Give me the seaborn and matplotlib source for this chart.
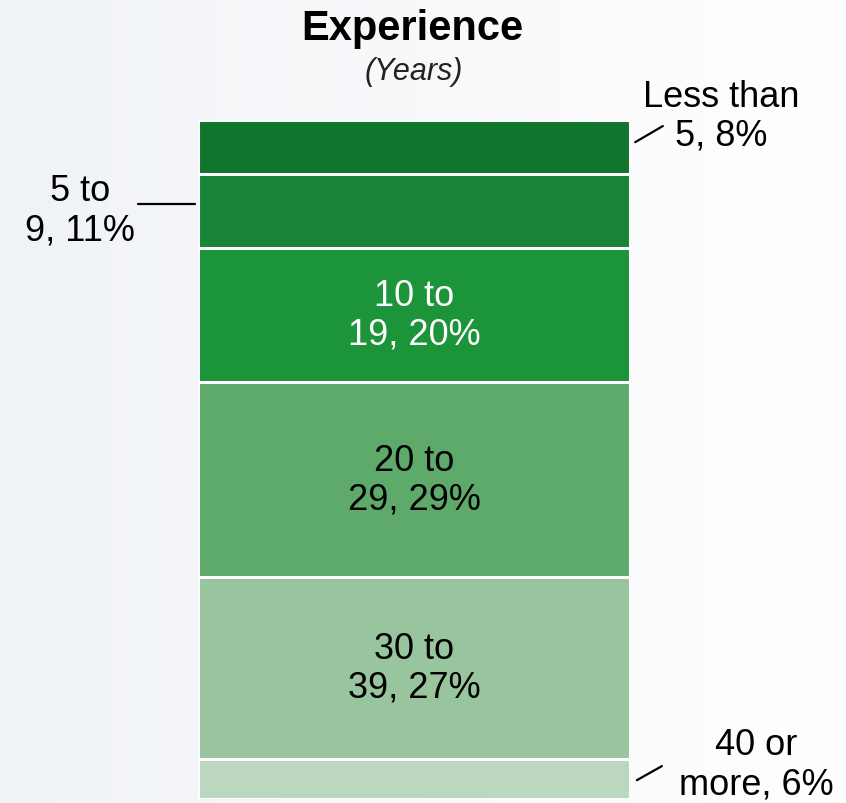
import numpy as np
import pandas as pd
import matplotlib
matplotlib.use("Agg")
import matplotlib.pyplot as plt
import seaborn as sns
from matplotlib.colors import LinearSegmentedColormap

# ---- data (top of stack first) ----
categories = ["Less than 5", "5 to 9", "10 to 19", "20 to 29", "30 to 39", "40 or more"]
label_lines = ["Less than\n5, 8%", "5 to\n9, 11%", "10 to\n19, 20%", "20 to\n29, 29%", "30 to\n39, 27%", "40 or\nmore, 6%"]
shares = [8, 11, 20, 29, 27, 6]
colors = ["#12752e", "#178535", "#1c9439", "#5eaa6a", "#98c49e", "#bcd7bf"]
text_colors = ["black", "black", "white", "black", "black", "black"]

sns.set_theme(style="white")
plt.rcParams["font.family"] = ["Liberation Sans", "DejaVu Sans"]

# cumulative tops measured from the bottom of the stack
bottom_up = shares[::-1]
cum_bottom_up = np.cumsum(bottom_up)
tops = list(cum_bottom_up[::-1])          # top edge for each category (in categories order)
bottoms = [t - s for t, s in zip(tops, shares)]
total = tops[0]

df = pd.DataFrame({"chart": ["Experience"] * len(categories),
                   "segment": categories,
                   "top": tops})

W, H = 846, 804
fig = plt.figure(figsize=(W / 100, H / 100), dpi=100)

# subtle background gradient
bg = fig.add_axes([0, 0, 1, 1], zorder=-5)
cmap = LinearSegmentedColormap.from_list("bg", ["#f0f3f6", "#f8f9fb", "#ffffff"])
grad = np.linspace(0, 1, 256)[None, :]
bg.imshow(grad, aspect="auto", cmap=cmap, extent=[0, 1, 0, 1])
bg.axis("off")

left_px, right_px, top_px, bot_px = 198, 630, 121, 800
ax = fig.add_axes([left_px / W, 1 - bot_px / H, (right_px - left_px) / W, (bot_px - top_px) / H])
ax.patch.set_alpha(0)

sns.barplot(data=df, x="chart", y="top", hue="segment", hue_order=categories,
            palette=dict(zip(categories, colors)), dodge=False, width=1.0,
            saturation=1, edgecolor="white", linewidth=2.2, legend=False,
            ax=ax, errorbar=None)

ax.set_xlim(-0.5, 0.5)
ax.set_ylim(0, total)
ax.axis("off")

fs = 26
# inside labels
for i in (2, 3, 4):
    yc = (tops[i] + bottoms[i]) / 2
    ax.text(0, yc, label_lines[i], ha="center", va="center", fontsize=fs,
            color=text_colors[i], linespacing=1.15)

# outside labels with leader lines
ax.text(0.711, 101.6, label_lines[0], ha="center", va="center", fontsize=fs,
        color="black", linespacing=1.15, clip_on=False)
ax.plot([0.512, 0.576], [tops[0] - 3.3, tops[0] - 0.9], color="black", lw=1.6, clip_on=False)

ax.text(-0.773, 87.6, label_lines[1], ha="center", va="center", fontsize=fs,
        color="black", linespacing=1.15, clip_on=False)
y59 = (tops[1] + bottoms[1]) / 2 + 1.0
ax.plot([-0.639, -0.507], [y59, y59], color="black", lw=1.6, clip_on=False)

ax.text(0.792, 5.2, label_lines[5], ha="center", va="center", fontsize=fs,
        color="black", linespacing=1.15, clip_on=False)
ax.plot([0.516, 0.574], [2.8, 4.9], color="black", lw=1.6, clip_on=False)

# title
fig.text(412 / W, 1 - 29 / H, "Experience", ha="center", va="center",
         fontsize=30, fontweight="bold", color="black")
fig.text(414 / W, 1 - 72 / H, "(Years)", ha="center", va="center",
         fontsize=22, fontstyle="italic", color="#222222")

fig.savefig("out.png", dpi=100)
